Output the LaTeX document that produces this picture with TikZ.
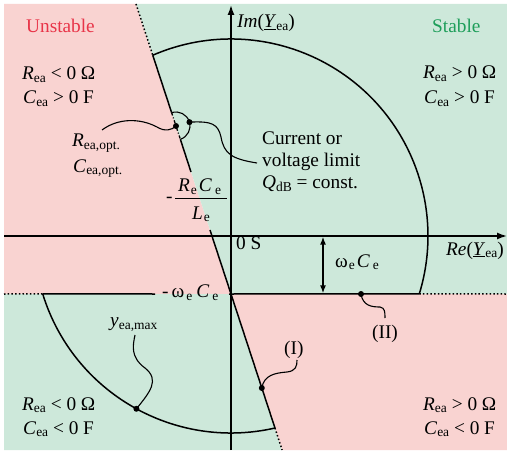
\documentclass[tikz,border=0pt]{standalone}
\usepackage{fontspec}
\setmainfont{Liberation Serif}
\usetikzlibrary{arrows.meta,calc}
\definecolor{pinkbg}{RGB}{249,211,209}
\definecolor{greenbg}{RGB}{205,232,218}
\definecolor{unst}{RGB}{232,52,72}
\definecolor{stab}{RGB}{30,158,90}
\newcommand\mysub[1]{\raisebox{-2.5pt}{\fontsize{13.5}{14}\selectfont #1}}
\begin{document}
\begin{tikzpicture}[x=1pt,y=1pt,
  lbl/.style={inner sep=0pt,anchor=base west,font=\fontsize{19.3}{21}\selectfont},
  ln/.style={line width=1.5pt},
  dotln/.style={line width=1.5pt,dash pattern=on 1.5pt off 2.2pt},
  leader/.style={line width=1.1pt},
  blob/.style={circle,fill=black,inner sep=0pt,minimum size=6pt},
  tipbig/.tip={Latex[length=10pt,width=7pt]},
  tipsmall/.tip={Latex[length=8pt,width=6pt]}]
\useasboundingbox (0,0) rectangle (507,459);
% background regions
\fill[pinkbg] (4,455) -- (136,455) -- (231,165) -- (4,165) -- cycle;
\fill[greenbg] (136,455) -- (507,455) -- (507,165) -- (231,165) -- cycle;
\fill[greenbg] (4,165) -- (231,165) -- (282.1,9) -- (4,9) -- cycle;
\fill[pinkbg] (231,165) -- (507,165) -- (507,9) -- (282.1,9) -- cycle;
% coordinates
\coordinate (O) at (231,223);
\coordinate (Ltop) at (136,455);
\coordinate (A1) at ($(O)+(113.4:197)$);
\coordinate (D1) at (176,333);
\coordinate (C1) at ($(D1)+(108.14:14)$);
\coordinate (C2) at ($(D1)+(-71.86:14)$);
\coordinate (D2) at ($(D1)+(16:14)$);
\coordinate (G1) at (191.0,287);
\coordinate (G2) at (210.0,229);
\coordinate (P) at (231,165);
\coordinate (A2) at ($(O)+(282.9:197)$);
\coordinate (Lbot) at (282.1,9);
\coordinate (H0) at (4,165);
\coordinate (H1) at ($(O)+(197.12:197)$);
\coordinate (H2) at (155,165);
\coordinate (H3) at (229,165);
\coordinate (H4) at ($(O)+(-17.12:197)$);
\coordinate (H5) at (507,165);
\coordinate (ReL) at (4,223);
\coordinate (ReR) at (507,223);
\coordinate (ImB) at (231,9);
\coordinate (ImT) at (231,454);
\coordinate (DA1) at (323,222.4);
\coordinate (DA2) at (323,165.6);
\coordinate (D3) at ($(O)+(241.3:197)$);
\coordinate (D4) at (261.8,71);
\coordinate (D5) at (361,165);
% circle arcs (limit)
\draw[ln] (A1) arc[start angle=113.4,end angle=-17.12,radius=197];
\draw[ln] (H1) arc[start angle=197.12,end angle=282.9,radius=197];
% stability line
\draw[dotln] (Ltop) -- (A1);
\draw[ln] (A1) -- (C1);
\draw[line width=1.3pt,dash pattern=on 3pt off 2pt on 1pt off 2pt] (C1) -- (C2);
\draw[ln] (C2) -- (G1);
\draw[ln] (G2) -- (A2);
\draw[dotln] (A2) -- (Lbot);
% small circle
\draw[leader] (C1) arc[start angle=108.14,end angle=-71.86,radius=14];
% -omega C line
\draw[dotln] (H0) -- (H1);
\draw[ln] (H1) -- (H2);
\draw[ln] (H3) -- (H4);
\draw[dotln] (H4) -- (H5);
% axes
\draw[ln,-tipbig] (ReL) -- (ReR);
\draw[ln,-tipbig] (ImB) -- (ImT);
\draw[ln,tipsmall-tipsmall] (DA1) -- (DA2);
% dots
\node[blob] (d1) at (D1) {};
\node[blob] (d2) at (D2) {};
\node[blob] (d3) at (D3) {};
\node[blob] (d4) at (D4) {};
\node[blob] (d5) at (D5) {};
% leaders
\draw[leader] (102,329) .. controls (118,341) and (140,341) .. (157,332) .. controls (165,327) and (172,329) .. (D1);
\draw[leader] (D2) .. controls (212,338) and (218,335) .. (221,322) .. controls (224,305) and (232,300) .. (257,296);
\draw[leader] (D3) .. controls (150,67) and (160,79) .. (145,91) .. controls (130,102) and (133,114) .. (135,124);
\draw[leader] (D4) .. controls (264,84) and (275,86) .. (287,87) .. controls (296,88) and (297,93) .. (297,99);
\draw[leader] (D5) .. controls (363,153) and (372,152) .. (380,152) .. controls (385,151) and (385,147) .. (385,141);
% texts
\node[lbl,text=unst] (tunst) at (26,426) {Unstable};
\node[lbl,text=stab] (tstab) at (432,426) {Stable};
\node[lbl] (r1) at (22,379) {\textit{R}\mysub{ea} < 0 Ω};
\node[lbl] (c1) at (23,355) {\textit{C}\mysub{ea} > 0 F};
\node[lbl] (r2) at (423,380) {\textit{R}\mysub{ea} > 0 Ω};
\node[lbl] (c2) at (424,355) {\textit{C}\mysub{ea} > 0 F};
\node[lbl] (r3) at (22,49) {\textit{R}\mysub{ea} < 0 Ω};
\node[lbl] (c3) at (23,25) {\textit{C}\mysub{ea} < 0 F};
\node[lbl] (r4) at (423,49) {\textit{R}\mysub{ea} > 0 Ω};
\node[lbl] (c4) at (424,25) {\textit{C}\mysub{ea} < 0 F};
\node[lbl] (ropt) at (72,312) {\textit{R}\mysub{ea,opt.}};
\node[lbl] (copt) at (73,287) {\textit{C}\mysub{ea,opt.}};
\node[lbl] (im) at (237,431) {\textit{Im}(\underline{\textit{Y}}\mysub{ea})};
\node[lbl] (re) at (446,204) {\textit{Re}(\underline{\textit{Y}}\mysub{ea})};
\node[lbl] (zero) at (236,209) {0 S};
\node[lbl] (wc) at (335,192) {ω\hspace{1pt}\mysub{e}\hspace{2pt}\textit{C}\hspace{3pt}\mysub{e}};
\node[lbl] (mwc) at (162,161) {-\hspace{3pt}ω\hspace{2pt}\mysub{e}\hspace{4pt}\textit{C}\hspace{3pt}\mysub{e}};
\node[lbl] (num) at (178,267) {\textit{R}\hspace{1pt}\mysub{e}\hspace{2pt}\textit{C}\hspace{3pt}\mysub{e}};
\node[lbl] (den) at (192,240) {\textit{L}\hspace{1pt}\mysub{e}};
\node[lbl] (minus) at (166,257) {-};
\draw[line width=0.9pt] (175,261) -- (227,261);
\node[lbl] (cur1) at (262,314) {Current or};
\node[lbl] (cur2) at (262,292) {voltage limit};
\node[lbl] (cur3) at (262,270) {\textit{Q}\mysub{dB} = const.};
\node[lbl] (ymax) at (110,132) {\textit{y}\mysub{ea,max}};
\node[lbl] (I) at (284,105) {(I)};
\node[lbl] (II) at (372,121) {(II)};
\end{tikzpicture}
\end{document}
